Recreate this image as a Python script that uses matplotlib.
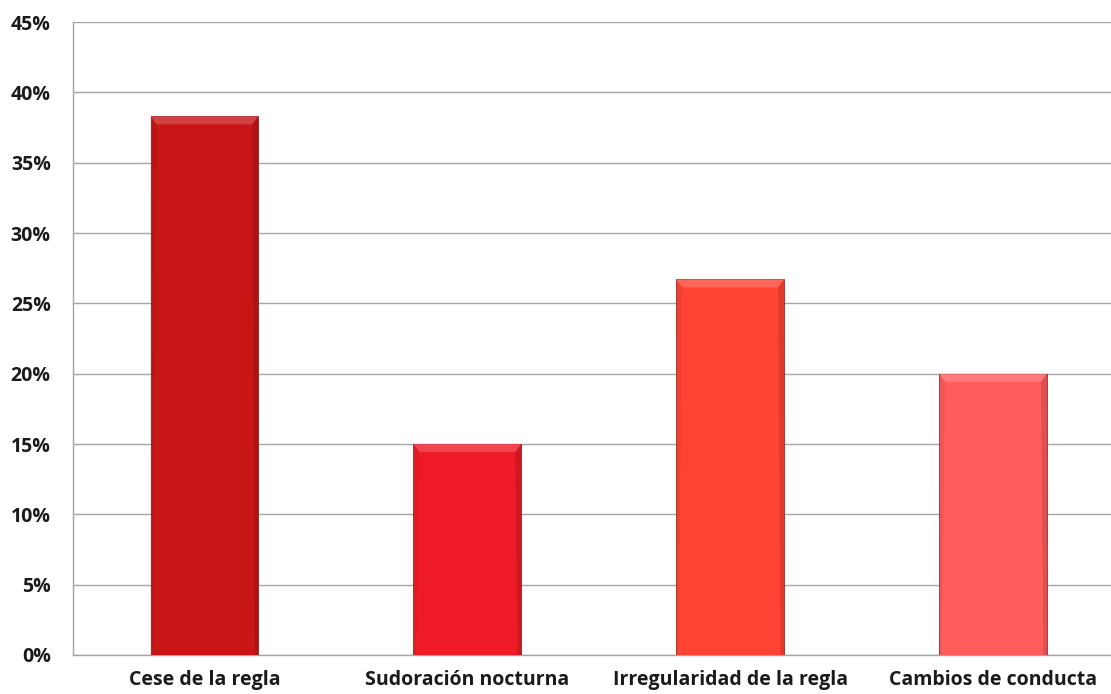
import matplotlib
matplotlib.use("Agg")
import matplotlib.pyplot as plt
from matplotlib.patches import Polygon
from matplotlib.ticker import FuncFormatter, MultipleLocator
import matplotlib.colors as mcolors

categories = ["Cese de la regla", "Sudoración nocturna",
              "Irregularidad de la regla", "Cambios de conducta"]
values = [38.3, 15.0, 26.7, 20.0]
bar_colors = ["#C81616", "#EE1B26", "#FF4433", "#FF5C5C"]

fig = plt.figure(figsize=(11.11, 6.94), dpi=100)
ax = fig.add_axes([0.0657, 0.0562, 0.9465, 0.912])

x = list(range(len(categories)))
bars = ax.bar(x, values, width=0.41, color=bar_colors,
              edgecolor="#8A1010", linewidth=0.5, zorder=3)

ax.set_xlim(-0.5, len(categories) - 0.5)
ax.set_ylim(0, 45)
ax.yaxis.set_major_locator(MultipleLocator(5))
ax.yaxis.set_major_formatter(FuncFormatter(lambda v, p: f"{v:.0f}%"))
ax.grid(axis="y", color="#A6A6A6", linewidth=1.0, zorder=0)

for side in ["top", "right"]:
    ax.spines[side].set_visible(False)
for side in ["left", "bottom"]:
    ax.spines[side].set_color("#A6A6A6")
    ax.spines[side].set_linewidth(1.0)

ax.tick_params(axis="both", length=0)
ax.tick_params(axis="y", pad=16)
ax.tick_params(axis="x", pad=11)
ax.set_xticks(x)
ax.set_xticklabels(categories)
for lbl in ax.get_yticklabels() + ax.get_xticklabels():
    lbl.set_fontfamily("Open Sans")
    lbl.set_fontweight("bold")
    lbl.set_fontsize(14)
    lbl.set_color("#1A1A1A")

# Bevelled look: lighter top band, darker side edges
fig.canvas.draw()
inv = ax.transData.inverted()
px_x = inv.transform((1, 0))[0] - inv.transform((0, 0))[0]
px_y = inv.transform((0, 1))[1] - inv.transform((0, 0))[1]
bevel_x = 6 * px_x
bevel_y = 8 * px_y
for b, c in zip(bars, bar_colors):
    x0, w, h = b.get_x(), b.get_width(), b.get_height()
    x1 = x0 + w
    rgb = mcolors.to_rgb(c)
    light = tuple(min(1, v + (1 - v) * 0.22) for v in rgb)
    dark = tuple(v * 0.72 for v in rgb)
    top = Polygon([(x0, h), (x1, h), (x1 - bevel_x, h - bevel_y),
                   (x0 + bevel_x, h - bevel_y)],
                  closed=True, facecolor=light, edgecolor="none", zorder=4,
                  alpha=0.85)
    right = Polygon([(x1, h), (x1, 0), (x1 - bevel_x * 0.6, 0),
                     (x1 - bevel_x, h - bevel_y)],
                    closed=True, facecolor=dark, edgecolor="none", zorder=4,
                    alpha=0.45)
    left = Polygon([(x0, h), (x0, 0), (x0 + bevel_x * 0.4, 0),
                    (x0 + bevel_x, h - bevel_y)],
                   closed=True, facecolor=dark, edgecolor="none", zorder=4,
                   alpha=0.2)
    ax.add_patch(top)
    ax.add_patch(right)
    ax.add_patch(left)

fig.savefig("out.png", dpi=100)
